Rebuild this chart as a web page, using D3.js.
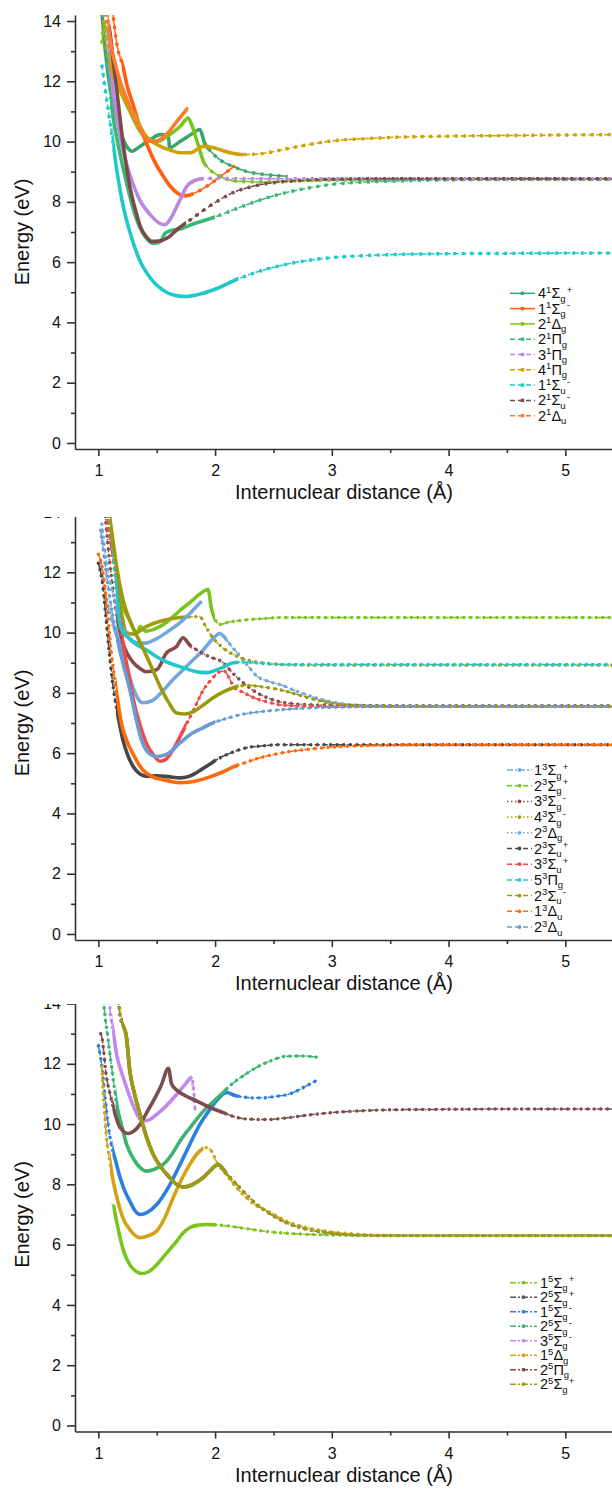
<!DOCTYPE html>
<html lang="en">
<head>
<meta charset="UTF-8"/>
<title>Potential energy curves</title>
<script src="https://cdnjs.cloudflare.com/ajax/libs/d3/7.8.5/d3.min.js"></script>
<style>
  body { margin: 0; background: #fff; }
  svg text { font-family: "Liberation Sans", Arial, sans-serif; fill: #111; }
</style>
</head>
<body>
<script>
var w = 612, h = 1490;

// axis ticks
var xMajor = [1, 2, 3, 4, 5];
var xMinor = [1.5, 2.5, 3.5, 4.5];
var yMajor = [0, 2, 4, 6, 8, 10, 12, 14];
var yMinor = [1, 3, 5, 7, 9, 11, 13];

// ---- panel 1 : singlet states ----
var p1_4Sgp = [[1.03,14.3],[1.06,13.0],[1.1,11.8],[1.15,10.9],[1.2,10.2],[1.25,9.8],[1.29,9.68],[1.35,9.82],[1.45,10.08],[1.53,10.23],[1.6,10.2],[1.61,9.8],[1.7,10.0],[1.8,10.25],[1.87,10.4],[1.91,9.95],[1.97,9.65],[2.04,9.4],[2.15,9.18],[2.27,9.01],[2.4,8.92],[2.5,8.88],[2.62,8.85]];
var p1_1Sgm = [[1.12,14.4],[1.16,13.2],[1.21,12.5],[1.25,11.8],[1.3,11.2],[1.35,10.55],[1.41,9.96],[1.48,9.35],[1.556,8.85],[1.62,8.5],[1.7,8.24],[1.75,8.2],[1.82,8.28],[1.93,8.52],[2.05,8.85],[2.17,9.2]];
var p1_2Dg = [[1.03,13.25],[1.05,13.95],[1.08,13.5],[1.12,12.7],[1.2,11.6],[1.27,11.0],[1.34,10.45],[1.41,10.1],[1.5,10.0],[1.6,10.2],[1.7,10.5],[1.77,10.78],[1.8,10.55],[1.85,9.95],[1.9,9.35],[1.96,9.05],[2.04,8.85],[2.2,8.68],[2.4,8.66],[2.7,8.7],[3.0,8.72],[3.5,8.74],[4.0,8.75],[4.5,8.75],[5.0,8.75],[5.4,8.75]];
var p1_2Pg = [[1.04,14.3],[1.08,12.5],[1.12,11.0],[1.18,9.7],[1.25,8.5],[1.32,7.5],[1.4,6.85],[1.47,6.62],[1.53,6.68],[1.57,6.95],[1.62,7.05],[1.7,7.1],[1.8,7.25],[2.0,7.5],[2.2,7.8],[2.4,8.08],[2.6,8.3],[2.8,8.46],[3.0,8.58],[3.3,8.66],[3.6,8.7],[4.0,8.73],[4.5,8.75],[5.0,8.75],[5.4,8.75]];
var p1_3Pg = [[1.05,14.3],[1.1,12.5],[1.15,11.0],[1.2,9.9],[1.27,8.9],[1.35,8.1],[1.45,7.55],[1.52,7.3],[1.57,7.24],[1.62,7.45],[1.66,7.75],[1.7,8.07],[1.76,8.52],[1.82,8.7],[1.9,8.77],[2.04,8.78],[2.2,8.77],[2.4,8.77],[2.7,8.77],[3.0,8.77],[3.5,8.77],[4.0,8.77],[5.4,8.77]];
var p1_4Pg = [[1.04,14.3],[1.06,13.5],[1.1,12.6],[1.13,12.2],[1.17,11.8],[1.21,11.5],[1.3,10.95],[1.41,10.17],[1.48,9.95],[1.556,9.8],[1.63,9.7],[1.7,9.63],[1.79,9.63],[1.85,9.75],[1.9,9.84],[1.98,9.8],[2.05,9.72],[2.13,9.63],[2.24,9.57],[2.4,9.6],[2.6,9.75],[2.8,9.9],[3.0,10.02],[3.3,10.1],[3.6,10.15],[4.0,10.18],[4.5,10.2],[5.0,10.22],[5.4,10.23]];
var p1_1Sum = [[1.03,12.55],[1.06,11.7],[1.09,10.9],[1.12,10.1],[1.16,9.0],[1.2,8.1],[1.27,7.0],[1.35,6.1],[1.45,5.45],[1.55,5.08],[1.65,4.9],[1.74,4.86],[1.85,4.92],[2.0,5.1],[2.2,5.45],[2.4,5.72],[2.6,5.92],[2.8,6.06],[3.0,6.15],[3.3,6.22],[3.6,6.26],[4.0,6.28],[4.5,6.29],[5.0,6.3],[5.4,6.3]];
var p1_2Sum = [[1.06,14.3],[1.1,13.6],[1.13,12.6],[1.17,11.3],[1.21,10.0],[1.27,8.5],[1.32,7.7],[1.36,7.18],[1.41,6.85],[1.46,6.69],[1.52,6.7],[1.59,6.8],[1.68,7.1],[1.79,7.41],[1.9,7.72],[2.04,8.07],[2.15,8.3],[2.27,8.46],[2.4,8.58],[2.56,8.66],[2.8,8.72],[3.0,8.75],[3.5,8.77],[4.0,8.77],[5.4,8.77]];
var p1_2Du = [[1.07,14.3],[1.115,13.06],[1.15,12.5],[1.19,11.96],[1.25,11.35],[1.3,10.83],[1.36,10.4],[1.41,10.07],[1.47,10.0],[1.53,10.07],[1.6,10.3],[1.64,10.5],[1.7,10.8],[1.77,11.13]];

var names1 = [["4","1","Σ","g","+"],["1","1","Σ","g","-"],["2","1","Δ","g",""],["2","1","Π","g",""],["3","1","Π","g",""],["4","1","Π","g",""],["1","1","Σ","u","-"],["2","1","Σ","u","-"],["2","1","Δ","u",""]];
var data1 = [p1_4Sgp, p1_1Sgm, p1_2Dg, p1_2Pg, p1_3Pg, p1_4Pg, p1_1Sum, p1_2Sum, p1_2Du];

// ---- panel 2 : triplet states ----
var p2_1Sgp = [[1.02,12.4],[1.05,11.6],[1.1,10.6],[1.16,9.9],[1.21,9.43],[1.27,8.5],[1.32,7.95],[1.38,7.67],[1.45,7.72],[1.55,8.05],[1.63,8.4],[1.7,8.67],[1.8,9.05],[1.9,9.43],[1.97,9.75],[2.04,9.97],[2.08,9.85],[2.14,9.55],[2.19,9.33],[2.28,8.9],[2.36,8.55],[2.46,8.38],[2.56,8.27],[2.7,8.05],[2.85,7.85],[3.0,7.7],[3.2,7.6],[3.5,7.56],[4.0,7.55],[4.5,7.55],[5.0,7.55],[5.4,7.55]];
var p2_2Sgp = [[1.06,14.3],[1.1,13.2],[1.15,12.0],[1.2,11.0],[1.27,10.4],[1.33,10.0],[1.36,10.2],[1.4,10.05],[1.5,10.15],[1.57,10.3],[1.64,10.53],[1.72,10.8],[1.785,11.0],[1.86,11.25],[1.94,11.43],[1.97,10.77],[2.04,10.27],[2.12,10.35],[2.21,10.4],[2.4,10.46],[2.56,10.5],[2.8,10.5],[3.0,10.5],[3.5,10.5],[4.0,10.5],[4.5,10.5],[5.0,10.5],[5.4,10.5]];
var p2_3Sgm = [[1.05,14.3],[1.08,13.0],[1.12,11.6],[1.16,10.5],[1.21,9.66],[1.3,9.0],[1.36,8.8],[1.41,8.7],[1.5,8.77],[1.585,9.33],[1.67,9.54],[1.726,9.83],[1.78,9.6],[1.84,9.43],[1.95,9.2],[2.07,9.0],[2.14,8.7],[2.21,8.44],[2.36,8.0],[2.46,7.82],[2.56,7.7],[2.7,7.63],[2.9,7.6],[3.2,7.58],[3.6,7.57],[4.0,7.57],[5.4,7.57]];
var p2_4Sgm = [[1.07,14.3],[1.1,13.3],[1.15,11.8],[1.2,10.6],[1.24,10.0],[1.3,9.95],[1.41,10.2],[1.55,10.4],[1.7,10.5],[1.87,10.53],[1.92,10.2],[1.98,9.83],[2.05,9.55],[2.13,9.33],[2.23,9.15],[2.33,9.04],[2.45,8.98],[2.56,8.94],[2.8,8.92],[3.0,8.92],[3.5,8.92],[4.0,8.92],[5.4,8.92]];
var p2_2Dg = [[1.03,13.6],[1.06,12.6],[1.1,11.7],[1.15,10.9],[1.2,10.2],[1.27,9.8],[1.33,9.66],[1.4,9.65],[1.5,9.8],[1.6,10.05],[1.7,10.33],[1.8,10.7],[1.885,11.04]];
var p2_2Sup = [[1.0,12.3],[1.04,11.5],[1.07,10.3],[1.1,9.1],[1.13,8.1],[1.17,7.2],[1.21,6.44],[1.25,5.95],[1.3,5.55],[1.36,5.3],[1.414,5.23],[1.5,5.25],[1.6,5.22],[1.7,5.18],[1.77,5.22],[1.84,5.35],[1.94,5.6],[2.04,5.84],[2.15,6.03],[2.27,6.18],[2.4,6.24],[2.56,6.28],[2.8,6.28],[3.0,6.28],[3.5,6.28],[4.0,6.28],[5.4,6.28]];
var p2_3Sup = [[1.06,14.3],[1.1,13.0],[1.15,11.9],[1.21,9.66],[1.26,8.6],[1.3,7.77],[1.36,6.9],[1.41,6.34],[1.47,5.95],[1.53,5.73],[1.58,5.8],[1.64,6.11],[1.7,6.55],[1.76,7.0],[1.83,7.55],[1.9,8.1],[1.97,8.45],[2.04,8.7],[2.08,8.72],[2.12,8.5],[2.16,8.2],[2.25,8.0],[2.33,7.84],[2.45,7.7],[2.56,7.6],[2.8,7.56],[3.0,7.55],[3.5,7.55],[4.0,7.55],[5.4,7.55]];
var p2_5Pg = [[1.08,14.3],[1.1,13.75],[1.13,12.4],[1.157,11.3],[1.19,10.17],[1.25,9.85],[1.33,9.6],[1.41,9.43],[1.5,9.2],[1.6,9.0],[1.7,8.87],[1.82,8.72],[1.93,8.67],[2.05,8.82],[2.16,9.0],[2.25,9.02],[2.33,9.0],[2.5,8.95],[2.8,8.94],[3.0,8.94],[3.5,8.94],[4.0,8.94],[5.4,8.94]];
var p2_2Sum = [[1.08,14.3],[1.12,13.2],[1.16,12.1],[1.21,11.1],[1.28,10.3],[1.36,9.66],[1.45,8.9],[1.53,8.2],[1.6,7.7],[1.67,7.33],[1.74,7.3],[1.81,7.37],[1.9,7.6],[1.98,7.83],[2.08,8.05],[2.18,8.2],[2.28,8.25],[2.4,8.2],[2.56,8.1],[2.7,7.95],[2.85,7.78],[3.0,7.65],[3.2,7.58],[3.5,7.55],[4.0,7.55],[5.4,7.55]];
var p2_1Du = [[1.0,12.6],[1.04,12.0],[1.08,10.6],[1.11,9.4],[1.16,7.9],[1.2,6.95],[1.24,6.45],[1.3,5.95],[1.38,5.45],[1.46,5.22],[1.55,5.12],[1.7,5.02],[1.8,5.05],[1.93,5.18],[2.05,5.35],[2.16,5.55],[2.27,5.7],[2.38,5.84],[2.56,6.0],[2.8,6.13],[3.0,6.2],[3.3,6.25],[3.6,6.27],[4.0,6.28],[5.4,6.28]];
var p2_2Du = [[1.02,13.4],[1.06,12.2],[1.1,11.1],[1.15,10.0],[1.21,9.0],[1.27,8.1],[1.32,7.2],[1.36,6.55],[1.42,6.05],[1.5,5.89],[1.58,5.95],[1.7,6.34],[1.8,6.65],[1.9,6.85],[1.98,7.0],[2.1,7.15],[2.21,7.27],[2.4,7.38],[2.56,7.44],[2.8,7.5],[3.0,7.52],[3.5,7.55],[4.0,7.55],[5.4,7.55]];

var names2 = [["1","3","Σ","g","+"],["2","3","Σ","g","+"],["3","3","Σ","g","-"],["4","3","Σ","g","-"],["2","3","Δ","g",""],["2","3","Σ","u","+"],["3","3","Σ","u","+"],["5","3","Π","g",""],["2","3","Σ","u","-"],["1","3","Δ","u",""],["2","3","Δ","u",""]];
var data2 = [p2_1Sgp, p2_2Sgp, p2_3Sgm, p2_4Sgm, p2_2Dg, p2_2Sup, p2_3Sup, p2_5Pg, p2_2Sum, p2_1Du, p2_2Du];

// ---- panel 3 : quintet states ----
var p3_1Sgp = [[1.128,7.33],[1.16,6.7],[1.186,6.23],[1.22,5.75],[1.27,5.33],[1.32,5.12],[1.37,5.04],[1.43,5.1],[1.5,5.33],[1.58,5.7],[1.67,6.11],[1.73,6.4],[1.785,6.57],[1.86,6.65],[1.93,6.67],[2.03,6.65],[2.13,6.61],[2.27,6.53],[2.41,6.45],[2.61,6.38],[2.8,6.34],[3.0,6.32],[3.5,6.3],[4.0,6.3],[4.5,6.3],[5.0,6.3],[5.4,6.3]];
var p3_2Sgp = [[1.17,14.3],[1.186,13.6],[1.24,12.9],[1.27,11.75],[1.31,11.0],[1.357,10.32],[1.41,9.6],[1.47,8.99],[1.54,8.55],[1.61,8.23],[1.67,8.0],[1.726,7.91],[1.8,7.98],[1.9,8.23],[1.97,8.5],[2.025,8.66],[2.1,8.35],[2.185,8.0],[2.27,7.65],[2.36,7.33],[2.48,7.0],[2.61,6.73],[2.8,6.5],[3.0,6.38],[3.3,6.31],[3.6,6.3],[4.0,6.3],[5.4,6.3]];
var p3_1Sgm = [[1.0,12.6],[1.03,11.93],[1.06,10.8],[1.1,9.55],[1.15,8.75],[1.186,8.23],[1.23,7.75],[1.27,7.44],[1.31,7.15],[1.357,7.0],[1.42,7.07],[1.5,7.33],[1.6,7.9],[1.7,8.66],[1.78,9.3],[1.87,9.99],[1.95,10.45],[2.01,10.76],[2.1,11.05],[2.17,10.95],[2.24,10.9],[2.33,10.87],[2.41,10.87],[2.52,10.92],[2.64,11.0],[2.75,11.2],[2.87,11.45]];
var p3_2Sgm = [[1.04,14.3],[1.057,13.6],[1.08,12.9],[1.1,12.3],[1.13,11.4],[1.157,10.65],[1.2,9.95],[1.243,9.32],[1.3,8.85],[1.36,8.55],[1.414,8.44],[1.48,8.5],[1.556,8.66],[1.63,9.0],[1.7,9.44],[1.8,9.95],[1.9,10.43],[2.0,10.8],[2.07,11.05],[2.15,11.35],[2.24,11.6],[2.35,11.87],[2.47,12.09],[2.61,12.25],[2.75,12.26],[2.87,12.22]];
var p3_3Sgm = [[1.09,14.3],[1.1,13.8],[1.13,13.0],[1.157,12.3],[1.2,11.7],[1.243,11.2],[1.3,10.6],[1.38,10.1],[1.44,10.15],[1.5,10.32],[1.58,10.6],[1.67,10.98],[1.74,11.3],[1.8,11.55],[1.83,10.43]];
var p3_1Dg = [[1.03,11.9],[1.04,11.2],[1.07,9.55],[1.1,8.75],[1.128,8.09],[1.17,7.4],[1.21,6.89],[1.28,6.45],[1.357,6.23],[1.43,6.3],[1.5,6.45],[1.57,6.9],[1.64,7.55],[1.725,8.26],[1.79,8.7],[1.84,8.99],[1.93,9.22],[1.97,9.1],[2.01,8.77],[2.1,8.3],[2.24,7.66],[2.35,7.3],[2.47,7.07],[2.61,6.78],[2.8,6.55],[3.0,6.42],[3.2,6.35],[3.5,6.3],[4.0,6.3],[5.4,6.3]];
var p3_2Pg = [[1.02,13.0],[1.03,12.88],[1.07,11.55],[1.1,11.0],[1.128,10.55],[1.186,9.89],[1.257,9.69],[1.3,9.75],[1.357,9.99],[1.41,10.35],[1.47,10.76],[1.54,11.3],[1.6,11.85],[1.628,11.32],[1.68,11.1],[1.726,10.98],[1.85,10.75],[1.956,10.55],[2.07,10.38],[2.185,10.22],[2.3,10.16],[2.45,10.15],[2.6,10.2],[2.8,10.3],[3.0,10.38],[3.3,10.45],[3.6,10.48],[4.0,10.49],[4.5,10.5],[5.0,10.5],[5.4,10.5]];
var p3_2Sgp_b = [[1.17,14.3],[1.186,13.6],[1.24,12.9],[1.27,11.75],[1.31,11.0],[1.357,10.32],[1.41,9.6],[1.47,8.99],[1.54,8.55],[1.61,8.23],[1.67,8.0],[1.726,7.91],[1.8,7.98],[1.9,8.23],[1.97,8.5],[2.025,8.66],[2.1,8.35],[2.185,8.0],[2.27,7.65],[2.36,7.33],[2.48,7.0],[2.61,6.73],[2.8,6.5],[3.0,6.38],[3.3,6.31],[3.6,6.3],[4.0,6.3],[5.4,6.3]];

var names3 = [["1","5","Σ","g","+"],["2","5","Σ","g","+"],["1","5","Σ","g","-"],["2","5","Σ","g","-"],["3","5","Σ","g","-"],["1","5","Δ","g",""],["2","5","Π","g",""],["2","5","Σ","g","+"]];
var data3 = [p3_1Sgp, p3_2Sgp, p3_1Sgm, p3_2Sgm, p3_3Sgm, p3_1Dg, p3_2Pg, p3_2Sgp_b];

// ---- styles ----
var dashes = { solid: null, dash: "5,3", dashdot: "6,2,2,2", dot: "1.5,2.5" };

var colors1 = ["#3ca56b","#ff5e0e","#7bc41e","#3db774","#b988e3","#cfa200","#1fc9c9","#7a4b4a","#ff7a2c"];
var styles1 = ["solid","solid","solid","dash","dash","dash","dash","dash","dash"];
var dense1 = [[1.0,1.95],[1.2,1.8],[1.08,1.92],[1.1,2.0],[1.08,1.9],[1.1,2.25],[1.12,2.2],[1.1,1.75],[1.08,1.77]];

var colors2 = ["#74a8dd","#7bc41e","#8a4a4a","#9e9e12","#74a8dd","#474747","#ef4a4a","#23c7c7","#9a9a0e","#ff6a0c","#6a9bd2"];
var styles2 = ["dashdot","dash","dot","dot","dot","dash","dash","dash","dash","dash","dash"];
var dense2 = [[1.12,2.1],[1.15,2.0],[1.15,1.8],[1.15,1.75],[1.15,1.9],[1.15,2.0],[1.2,1.75],[1.15,2.2],[1.1,2.2],[1.15,2.2],[1.15,2.0]];

var colors3 = ["#7bc41e","#555555","#2b7fe0","#3cb371","#c488ec","#d4a215","#7b4d4d","#9c9c14"];
var styles3 = ["dashdot","dashdot","dashdot","dashdot","dashdot","dashdot","dashdot","dashdot"];
var dense3 = [[1.12,2.0],[1.2,2.1],[1.12,2.2],[1.15,2.1],[1.12,1.8],[1.1,1.9],[1.12,2.1],[1.2,2.1]];

var panels = [
  { off: 0,     names: names1, data: data1, colors: colors1, styles: styles1, dense: dense1, round: false,
    leg: { x0: 510, x1: 535, tx: 538, y0: 293.3, dy: 15.3 } },
  { off: 491,   names: names2, data: data2, colors: colors2, styles: styles2, dense: dense2, round: true,
    leg: { x0: 507, x1: 532, tx: 534, y0: 279, dy: 15.7 } },
  { off: 982.5, names: names3, data: data3, colors: colors3, styles: styles3, dense: dense3, round: true,
    leg: { x0: 510, x1: 537, tx: 540, y0: 300.2, dy: 14.5 } }
];

var xScale = d3.scaleLinear().domain([0.8, 5.4]).range([75, 612]);
var yScale = d3.scaleLinear().domain([-0.2, 14.2]).range([449, 15]);

var line = d3.line()
  .x(function(d) { return xScale(d[0]); })
  .y(function(d) { return yScale(d[1]); })
  .curve(d3.curveMonotoneX);

var svg = d3.select("body").append("svg")
  .attr("width", w)
  .attr("height", h);

var defs = svg.append("defs");

defs.append("clipPath").attr("id", "plotclip")
  .append("rect")
  .attr("x", 75.5).attr("y", 15)
  .attr("width", 612 - 75.5).attr("height", 449 - 15);

// state label: number, multiplicity (sup), letter, parity (sub), sign (sup)
function addLabel(t, p) {
  t.append("tspan").text(p[0]);
  t.append("tspan").attr("dy", -5.5).attr("font-size", 9.5).text(p[1]);
  t.append("tspan").attr("dy", 5.5).text(p[2]);
  t.append("tspan").attr("dy", 3.5).attr("font-size", 9.5).text(p[3]);
  if (p[4]) t.append("tspan").attr("dy", -9).attr("dx", 1).attr("font-size", 9.5).text(p[4]);
}

panels.forEach(function(pn, pi) {
  var g = svg.append("g").attr("transform", "translate(0," + pn.off + ")");

  var plot = g.append("g").attr("clip-path", "url(#plotclip)");

  pn.data.forEach(function(d, i) {
    var id = "p" + pi + "s" + i;
    var a = xScale(pn.dense[i][0]), b = xScale(pn.dense[i][1]);

    var cin = defs.append("clipPath").attr("id", id + "in");
    cin.append("rect").attr("x", a).attr("y", 0).attr("width", b - a).attr("height", 460);
    var cout = defs.append("clipPath").attr("id", id + "out");
    cout.append("rect").attr("x", 0).attr("y", 0).attr("width", a).attr("height", 460);
    cout.append("rect").attr("x", b).attr("y", 0).attr("width", w - b).attr("height", 460);

    var col = pn.colors[i];

    // thin line with the series dash style
    plot.append("path")
      .datum(d)
      .attr("d", line)
      .attr("fill", "none")
      .attr("stroke", col)
      .attr("stroke-width", 1.5)
      .attr("stroke-dasharray", dashes[pn.styles[i]]);

    // dense part, markers merge into a thick band
    plot.append("g").attr("clip-path", "url(#" + id + "in)")
      .append("path")
      .datum(d)
      .attr("d", line)
      .attr("fill", "none")
      .attr("stroke", col)
      .attr("stroke-width", 3.6)
      .attr("stroke-linejoin", "round");

    // sparse part, separate markers
    plot.append("g").attr("clip-path", "url(#" + id + "out)")
      .append("path")
      .datum(d)
      .attr("d", line)
      .attr("fill", "none")
      .attr("stroke", col)
      .attr("stroke-width", 3.4)
      .attr("stroke-linecap", pn.round ? "round" : "butt")
      .attr("stroke-dasharray", pn.round ? "0.1,6.5" : "3,5.5");
  });

  // axes
  var yAxis = d3.axisLeft(yScale).tickValues(yMajor).tickSize(8).tickSizeOuter(0).tickPadding(6).tickFormat(d3.format("d"));
  var yAxisMinor = d3.axisLeft(yScale).tickValues(yMinor).tickSize(4).tickFormat("");
  var xAxis = d3.axisBottom(xScale).tickValues(xMajor).tickSize(7).tickSizeOuter(0).tickPadding(9).tickFormat(d3.format("d"));
  var xAxisMinor = d3.axisBottom(xScale).tickValues(xMinor).tickSize(4).tickFormat("");

  var gy = g.append("g").attr("transform", "translate(75,0)").call(yAxis);
  var gym = g.append("g").attr("transform", "translate(75,0)").call(yAxisMinor);
  var gx = g.append("g").attr("transform", "translate(0,449)").call(xAxis);
  var gxm = g.append("g").attr("transform", "translate(0,449)").call(xAxisMinor);
  gym.select(".domain").remove();
  gxm.select(".domain").remove();

  [gy, gym, gx, gxm].forEach(function(ax) {
    ax.selectAll("path, line").attr("stroke", "#333").attr("stroke-width", 1.6);
    ax.selectAll("text").attr("font-size", 16).attr("fill", "#111")
      .style("font-family", "'Liberation Sans', Arial, sans-serif");
  });

  g.append("text")
    .attr("transform", "translate(29,232) rotate(-90)")
    .attr("text-anchor", "middle")
    .attr("font-size", 20)
    .text("Energy (eV)");

  g.append("text")
    .attr("x", 344).attr("y", 499)
    .attr("text-anchor", "middle")
    .attr("font-size", 20)
    .text("Internuclear distance (Å)");

  // legend
  pn.names.forEach(function(nm, i) {
    var yy = pn.leg.y0 + i * pn.leg.dy;
    var col = pn.colors[i];
    g.append("line")
      .attr("x1", pn.leg.x0).attr("x2", pn.leg.x1)
      .attr("y1", yy).attr("y2", yy)
      .attr("stroke", col).attr("stroke-width", 1.5)
      .attr("stroke-dasharray", dashes[pn.styles[i]]);
    var mx = (pn.leg.x0 + pn.leg.x1) / 2;
    if (pn.round) {
      g.append("circle").attr("cx", mx).attr("cy", yy).attr("r", 1.9).attr("fill", col);
    } else {
      g.append("rect").attr("x", mx - 1.7).attr("y", yy - 1.7).attr("width", 3.4).attr("height", 3.4).attr("fill", col);
    }
    var t = g.append("text")
      .attr("x", pn.leg.tx).attr("y", yy + 5)
      .attr("font-size", 14.5);
    addLabel(t, nm);
  });
});

// the panels were cropped from a taller figure
svg.append("rect").attr("x", 0).attr("y", 503).attr("width", w).attr("height", 14).attr("fill", "#fff");
svg.append("rect").attr("x", 0).attr("y", 994).attr("width", w).attr("height", 10).attr("fill", "#fff");
</script>
</body>
</html>
